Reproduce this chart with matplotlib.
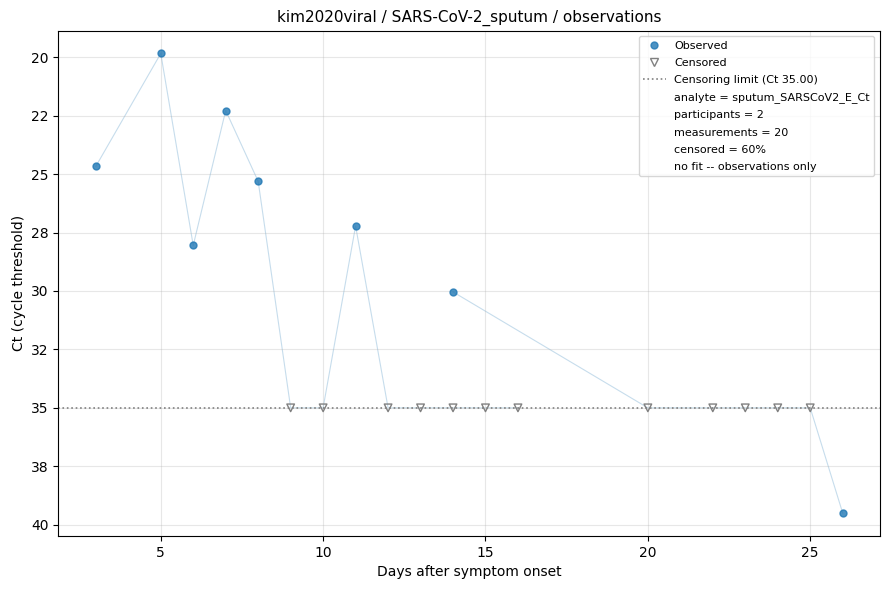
import matplotlib
matplotlib.use("Agg")
import matplotlib.pyplot as plt
from matplotlib.lines import Line2D
from matplotlib.ticker import FormatStrFormatter

# participant A
days_a = [3, 5, 6, 7, 8, 9, 10, 11, 12, 13, 14, 15, 16]
ct_a = [24.67, 19.84, 28.05, 22.28, 25.31, 35, 35, 27.22, 35, 35, 35, 35, 35]
cens_a = [False, False, False, False, False, True, True, False, True, True, True, True, True]

# participant B
days_b = [14, 20, 22, 23, 24, 25, 26]
ct_b = [30.04, 35, 35, 35, 35, 35, 39.5]
cens_b = [False, True, True, True, True, True, False]

limit = 35.0

fig, ax = plt.subplots(figsize=(8.9, 5.9), dpi=100)

for d, c, cz in [(days_a, ct_a, cens_a), (days_b, ct_b, cens_b)]:
    ax.plot(d, c, color="C0", alpha=0.25, lw=0.8, zorder=1)
    od = [x for x, z in zip(d, cz) if not z]
    oc = [y for y, z in zip(c, cz) if not z]
    cd = [x for x, z in zip(d, cz) if z]
    cc = [y for y, z in zip(c, cz) if z]
    ax.scatter(od, oc, s=25, color="C0", alpha=0.8, zorder=3)
    ax.scatter(cd, cc, s=30, marker="v", facecolors="none", edgecolors="gray", zorder=3)

ax.axhline(limit, color="gray", ls=":", lw=1.2, zorder=2)

ax.invert_yaxis()
ax.yaxis.set_major_formatter(FormatStrFormatter("%.0f"))
ax.grid(alpha=0.3)
ax.set_xlabel("Days after symptom onset")
ax.set_ylabel("Ct (cycle threshold)")
ax.set_title("kim2020viral / SARS-CoV-2_sputum / observations", fontsize=11)

blank = Line2D([], [], color="none")
handles = [
    Line2D([], [], marker="o", ls="none", color="C0", alpha=0.8, markersize=5),
    Line2D([], [], marker="v", ls="none", markerfacecolor="none", markeredgecolor="gray", markersize=6),
    Line2D([], [], color="gray", ls=":", lw=1.2),
    blank, blank, blank, blank, blank,
]
labels = [
    "Observed",
    "Censored",
    "Censoring limit (Ct 35.00)",
    "analyte = sputum_SARSCoV2_E_Ct",
    "participants = 2",
    "measurements = 20",
    "censored = 60%",
    "no fit -- observations only",
]
ax.legend(handles, labels, loc="upper right", fontsize=8, labelspacing=0.65)

fig.subplots_adjust(left=0.0657, right=0.9888, top=0.9483, bottom=0.0915)
fig.savefig("out.png")
